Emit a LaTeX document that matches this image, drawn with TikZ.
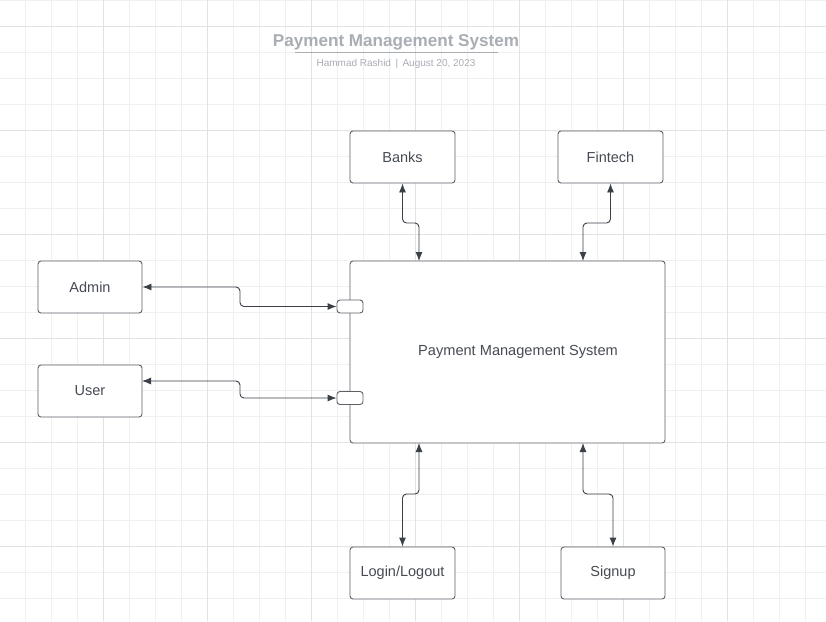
\documentclass[tikz,border=0pt]{standalone}
\usepackage{fontspec}
\setmainfont{Liberation Sans}
\usetikzlibrary{arrows.meta,calc}
\definecolor{gridminor}{HTML}{F0F0F0}
\definecolor{gridmajor}{HTML}{E2E2E2}
\definecolor{boxline}{HTML}{5C6067}
\definecolor{txt}{HTML}{464B53}
\definecolor{arr}{HTML}{3A3F48}
\definecolor{ttl}{HTML}{A9ADB4}
\tikzset{
  box/.style={draw=boxline, line width=0.9pt, rounded corners=3pt, fill=white, text=txt, font=\fontsize{14.5}{16}\selectfont, inner sep=0pt},
  port/.style={draw=boxline, line width=0.9pt, rounded corners=3pt, fill=white, minimum width=26pt, minimum height=13pt, inner sep=0pt},
  conn/.style={draw=arr, line width=0.9pt, rounded corners=4pt, {Latex[length=9pt,width=7pt]}-{Latex[length=9pt,width=7pt]}}
}
\begin{document}
\begin{tikzpicture}[x=1pt,y=-1pt]
\useasboundingbox (0,0) rectangle (826,621);
\fill[white] (0,0) rectangle (826,621);
% grid
\foreach \i in {0,...,32} {\draw[gridminor, line width=0.8pt] ({-0.5+26*\i},0) -- ({-0.5+26*\i},621);}
\foreach \j in {0,...,24} {\draw[gridminor, line width=0.8pt] (0,{26*\j}) -- (826,{26*\j});}
\foreach \i in {0,...,8} {\draw[gridmajor, line width=0.9pt] ({-0.5+104*\i},0) -- ({-0.5+104*\i},621);}
\foreach \j in {0,...,5} {\draw[gridmajor, line width=0.9pt] (0,{26+104*\j}) -- (826,{26+104*\j});}
% title
\node[text=ttl, font=\bfseries\fontsize{17.1}{19}\selectfont] (title) at (396,42.5) {Payment Management System};
\draw[ttl, line width=1.1pt] (295,52.5) -- (498,52.5);
\node[text=ttl, font=\fontsize{10}{12}\selectfont] (sub) at (396,63.5) {Hammad Rashid \,|\, August 20, 2023};
% nodes
\node[box, minimum width=105pt, minimum height=52pt] (banks) at (402.5,157) {Banks};
\node[box, minimum width=105pt, minimum height=52pt] (fintech) at (610.5,157) {Fintech};
\node[box, minimum width=104pt, minimum height=52pt] (admin) at (90,287) {Admin};
\node[box, minimum width=104pt, minimum height=52pt] (user) at (90,391) {User};
\node[box, minimum width=315pt, minimum height=182pt] (main) at (507.5,352) {};
\node[text=txt, font=\fontsize{14.6}{16}\selectfont] (mainlbl) at (518,351.5) {Payment Management System};
\node[box, minimum width=105pt, minimum height=52pt] (login) at (402.5,573) {Login/Logout};
\node[box, minimum width=104pt, minimum height=52pt] (signup) at (613,573) {Signup};
\node[port] (p1) at (350,306.5) {};
\node[port] (p2) at (350,398) {};
% connection points
\coordinate (mtl) at (419,261);
\coordinate (mtr) at (583,261);
\coordinate (mbl) at (419,443);
\coordinate (mbr) at (583,443);
\coordinate (ua) at (142,381);
% connectors
\draw[conn] (admin.east) -- (240,287) -- (240,306.5) -- (p1.west);
\draw[conn] (ua) -- (240,381) -- (240,398) -- (p2.west);
\draw[conn] (banks.south) -- (402.5,223) -- (419,223) -- (mtl);
\draw[conn] (fintech.south) -- (610.5,223) -- (583,223) -- (mtr);
\draw[conn] (mbl) -- (419,494) -- (402.5,494) -- (login.north);
\draw[conn] (mbr) -- (583,494) -- (613,494) -- (signup.north);
\end{tikzpicture}
\end{document}
